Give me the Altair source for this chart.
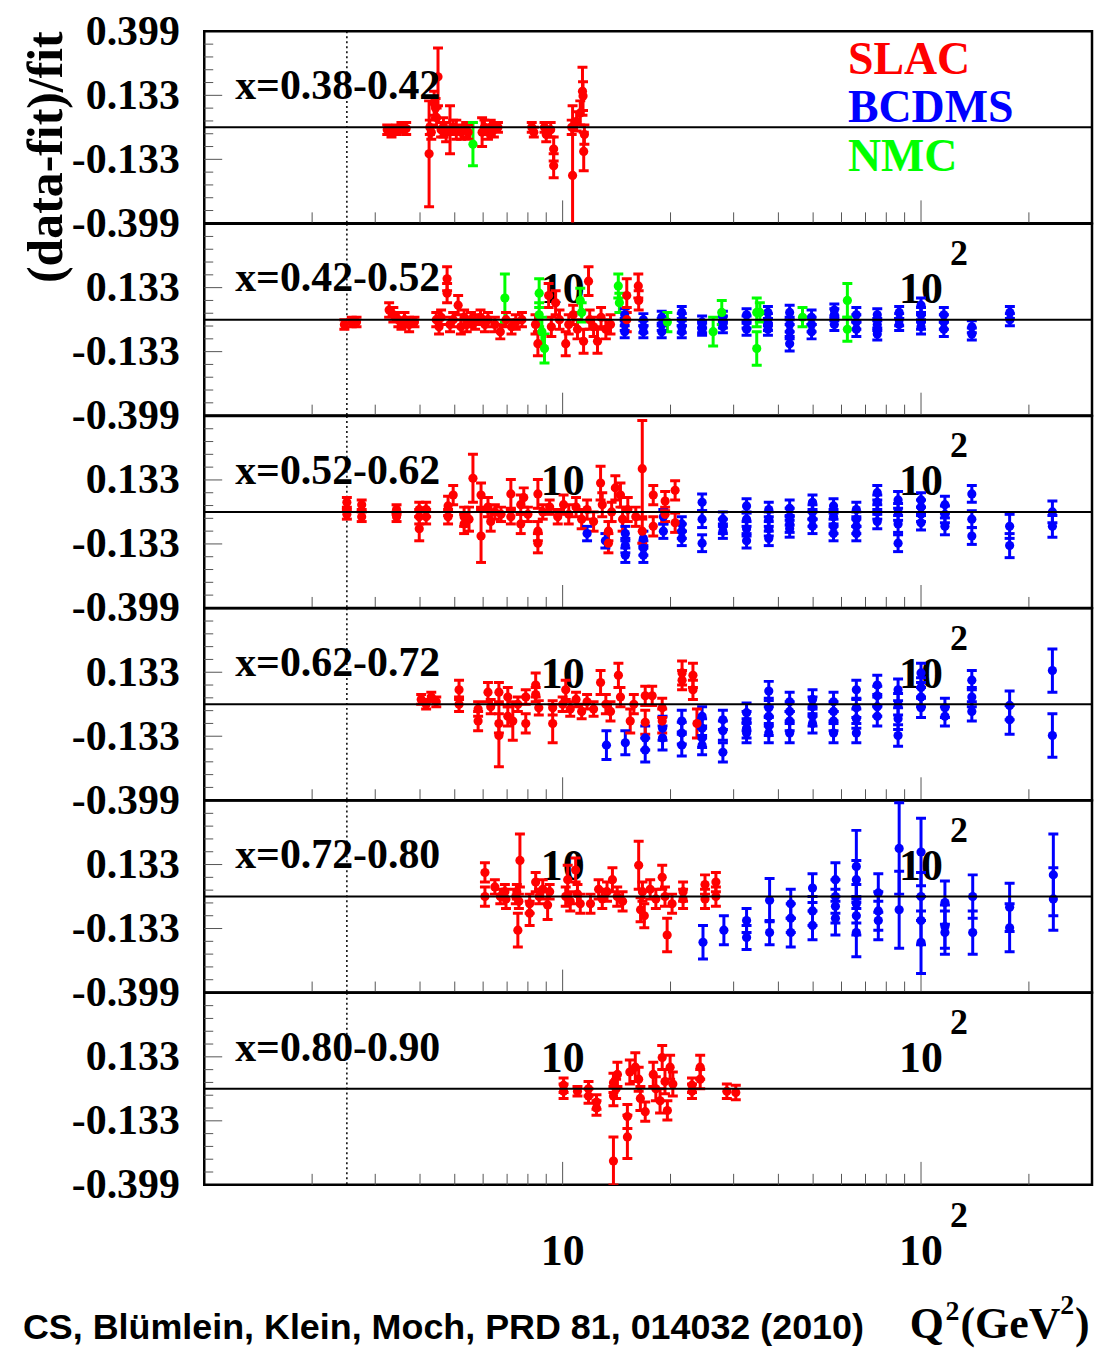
import altair as alt
import pandas as pd

# ---- panel layout / axes ---------------------------------------------------
PANEL_LABELS = ["x=0.38-0.42", "x=0.42-0.52", "x=0.52-0.62",
                "x=0.62-0.72", "x=0.72-0.80", "x=0.80-0.90"]
EXPERIMENTS = ["SLAC", "BCDMS", "NMC"]
EXP_COLORS = ["#ff0000", "#0000ff", "#00ff00"]

Q2_RANGE = [1, 300]
RESID_RANGE = [-0.399, 0.399]
Y_LABELS_TOP = [-0.399, -0.133, 0.133, 0.399]
Y_LABELS = [-0.399, -0.133, 0.133]
Y_TICKS_MAJOR = [-0.133, 0.133]
Y_TICKS_MINOR = [-0.3458, -0.2926, -0.2394, -0.1862, -0.0798, -0.0266,
                 0.0266, 0.0798, 0.1862, 0.2394, 0.2926, 0.3458]
X_TICKS_MAJOR = [10, 100]
X_TICKS_MINOR = [2, 3, 4, 5, 6, 7, 8, 9, 20, 30, 40, 50, 60, 70, 80, 90, 200]
X_LABELS = [10, 100]
X_LABEL_TEXT = ["10", "10"]
X_EXPONENT_AT = [100]
Q2_CUT = 2.5

CITATION = "CS, Blümlein, Klein, Moch, PRD 81, 014032 (2010)"

# ---- residuals (Q2 [GeV^2], (data-fit)/fit, error) -------------------------
SLAC_1 = [
    (3.24, -0.01, 0.02), (3.33, -0.02, 0.02), (3.44, -0.01, 0.02), (3.55, 0.0, 0.02),
    (3.66, -0.005, 0.025), (4.24, -0.11, 0.22), (4.26, 0.0, 0.03), (4.30, -0.02, 0.03),
    (4.38, 0.10, 0.05), (4.42, 0.08, 0.04), (4.45, 0.04, 0.04), (4.49, 0.21, 0.12),
    (4.58, -0.01, 0.03), (4.65, 0.0, 0.04), (4.73, -0.02, 0.04), (4.85, -0.01, 0.10),
    (4.95, 0.0, 0.03), (5.05, -0.01, 0.04), (5.21, -0.02, 0.03), (5.38, -0.01, 0.03),
    (5.45, -0.02, 0.03), (5.96, -0.02, 0.06), (6.05, 0.0, 0.03), (6.19, -0.02, 0.03),
    (6.30, 0.0, 0.03), (6.43, -0.01, 0.03), (6.60, 0.0, 0.02), (8.20, 0.0, 0.02),
    (8.31, -0.02, 0.02), (8.90, 0.0, 0.02), (9.00, -0.03, 0.03), (9.26, -0.01, 0.03),
    (9.44, -0.09, 0.05), (9.44, -0.16, 0.05), (10.66, -0.20, 0.29), (10.60, 0.0, 0.03),
    (10.94, 0.025, 0.04), (11.2, 0.06, 0.05), (11.36, 0.15, 0.10), (11.40, 0.13, 0.06),
    (11.50, -0.03, 0.04), (11.45, -0.10, 0.08),
]
NMC_1 = [(5.62, -0.07, 0.09)]

SLAC_2 = [
    (2.46, -0.02, 0.02), (2.58, -0.01, 0.02), (2.66, -0.01, 0.02),
    (3.28, 0.04, 0.03), (3.37, 0.02, 0.03), (3.48, 0.0, 0.03), (3.55, -0.02, 0.02),
    (3.62, 0.0, 0.03), (3.73, -0.02, 0.03), (3.86, -0.01, 0.02),
    (4.44, 0.0, 0.03), (4.52, -0.03, 0.03), (4.58, 0.01, 0.03), (4.76, 0.17, 0.05),
    (4.76, 0.11, 0.04), (4.85, -0.02, 0.03), (4.95, 0.0, 0.03), (5.11, 0.06, 0.04),
    (5.20, -0.03, 0.03), (5.31, 0.01, 0.03), (5.40, -0.02, 0.03), (5.55, 0.0, 0.03),
    (5.70, -0.01, 0.03), (5.90, 0.01, 0.03), (6.07, -0.02, 0.03), (6.19, 0.0, 0.03),
    (6.47, -0.02, 0.03), (6.70, -0.05, 0.03), (6.95, 0.0, 0.03), (7.20, -0.03, 0.03),
    (7.40, -0.01, 0.03), (7.70, 0.0, 0.03), (8.40, -0.02, 0.04), (8.53, -0.10, 0.05),
    (9.14, 0.10, 0.05), (9.30, -0.03, 0.04), (9.56, 0.07, 0.05), (9.80, 0.0, 0.04),
    (10.2, -0.10, 0.05), (10.4, -0.02, 0.04), (10.7, 0.02, 0.04), (11.0, -0.04, 0.04),
    (11.44, -0.09, 0.05), (11.81, 0.16, 0.06), (11.9, 0.0, 0.04), (12.2, -0.03, 0.04),
    (12.51, -0.09, 0.05), (12.8, 0.01, 0.04), (13.2, -0.04, 0.04), (13.6, -0.02, 0.04),
    (15.1, 0.10, 0.07), (15.1, 0.0, 0.05), (16.26, 0.14, 0.05), (16.3, 0.08, 0.04),
]
NMC_2 = [
    (6.9, 0.09, 0.10), (8.6, 0.11, 0.06), (8.6, 0.02, 0.05), (8.75, -0.05, 0.06),
    (8.9, -0.12, 0.06), (11.2, 0.08, 0.05), (11.3, 0.03, 0.04), (14.3, 0.14, 0.05),
    (14.4, 0.07, 0.04), (19.6, -0.01, 0.04), (26.3, -0.05, 0.06), (27.8, 0.03, 0.05),
    (34.8, 0.03, 0.06), (34.8, -0.12, 0.07), (35.5, 0.03, 0.04), (46.7, 0.01, 0.04),
    (62.3, 0.08, 0.07), (62.3, -0.04, 0.05),
]
# BCDMS: (Q2, residuals measured at that Q2, error)
BCDMS_2 = [
    (14.9, (0.02, -0.02, -0.05), 0.025), (16.8, (0.0, -0.03, -0.05), 0.025),
    (18.9, (0.01, -0.02, -0.05), 0.025), (21.5, (0.03, 0.0, -0.03, -0.05), 0.025),
    (24.5, (-0.01, -0.03, -0.04), 0.025), (28.0, (0.01, -0.01, -0.03), 0.025),
    (32.6, (0.02, -0.01, -0.04), 0.025), (37.4, (0.03, 0.0, -0.02, -0.04), 0.025),
    (43.0, (0.03, -0.02, -0.05, -0.10), 0.03), (49.5, (0.01, -0.02, -0.05), 0.03),
    (57.3, (0.04, 0.02, -0.02), 0.025), (66.0, (0.02, -0.01, -0.04), 0.03),
    (75.5, (0.02, -0.02, -0.06), 0.025), (86.9, (0.03, 0.0, -0.02), 0.025),
    (100.0, (0.06, 0.02, -0.01, -0.03), 0.03), (115.8, (0.02, -0.01, -0.04), 0.03),
    (138.6, (-0.03, -0.06), 0.025), (177.0, (0.03, 0.0), 0.025),
]

SLAC_3 = [
    (2.50, 0.04, 0.02), (2.50, -0.01, 0.02), (2.75, 0.03, 0.02), (2.75, -0.02, 0.02),
    (3.44, 0.01, 0.02), (3.44, -0.02, 0.02), (3.98, 0.01, 0.03), (3.98, -0.02, 0.03),
    (3.98, -0.07, 0.05), (4.16, 0.01, 0.03), (4.16, -0.02, 0.03), (4.79, 0.025, 0.04),
    (4.79, -0.02, 0.03), (4.95, 0.07, 0.04), (5.31, -0.02, 0.04), (5.31, -0.05, 0.04),
    (5.48, -0.03, 0.05), (5.62, 0.14, 0.10), (5.92, -0.10, 0.11), (5.92, 0.07, 0.05),
    (6.19, 0.02, 0.04), (6.30, -0.04, 0.04), (6.47, 0.0, 0.03), (6.73, -0.01, 0.03),
    (7.17, 0.075, 0.06), (7.17, -0.02, 0.03), (7.64, 0.03, 0.04), (7.64, -0.05, 0.04),
    (7.79, 0.06, 0.04), (8.00, -0.01, 0.03), (8.53, 0.075, 0.06), (8.53, -0.08, 0.04),
    (8.53, -0.13, 0.04), (8.80, 0.0, 0.03), (9.20, 0.02, 0.03), (9.69, -0.02, 0.03),
    (10.06, 0.03, 0.04), (10.4, -0.01, 0.04), (10.9, 0.02, 0.04), (11.3, -0.03, 0.04),
    (11.7, 0.01, 0.04), (12.2, -0.04, 0.04), (12.76, 0.12, 0.07), (12.9, 0.03, 0.05),
    (13.42, -0.08, 0.04), (13.42, -0.13, 0.04), (13.7, 0.0, 0.04), (14.03, 0.10, 0.05),
    (14.5, 0.07, 0.05), (14.7, -0.03, 0.05), (15.2, 0.01, 0.05), (16.0, -0.02, 0.04),
    (16.68, 0.18, 0.20), (16.68, -0.08, 0.05), (17.9, 0.07, 0.04), (17.9, -0.06, 0.04),
    (19.32, 0.045, 0.04), (19.32, -0.01, 0.03), (20.6, 0.09, 0.04), (20.6, -0.045, 0.04),
]
BCDMS_3 = [
    (11.7, (-0.09,), 0.03), (13.16, (-0.12,), 0.03), (14.96, (-0.09, -0.14, -0.18), 0.03),
    (16.8, (-0.11, -0.15, -0.18), 0.03), (19.1, (-0.02, -0.08), 0.03),
    (21.5, (-0.05, -0.08, -0.11), 0.03), (24.5, (0.04, -0.03, -0.13), 0.035),
    (28.0, (-0.03, -0.06, -0.08), 0.03), (32.6, (0.025, -0.03, -0.07, -0.12), 0.03),
    (37.6, (0.01, -0.03, -0.07, -0.11), 0.03), (43.0, (0.015, -0.02, -0.05, -0.07), 0.035),
    (49.8, (0.04, 0.0, -0.03, -0.06), 0.03), (57.0, (0.025, -0.02, -0.06, -0.09), 0.03),
    (66.0, (0.01, -0.03, -0.06, -0.09), 0.03), (75.5, (0.08, 0.04, 0.0, -0.04), 0.03),
    (86.3, (0.05, 0.0, -0.05, -0.13), 0.035), (100.0, (0.05, 0.02, -0.01, -0.045), 0.03),
    (116.6, (0.03, -0.01, -0.06), 0.035), (138.6, (0.075, -0.03, -0.10), 0.035),
    (176.7, (-0.06, -0.14), 0.05), (232.6, (0.0, -0.06), 0.045),
]

SLAC_4 = [
    (4.03, 0.02, 0.02), (4.16, 0.0, 0.02), (4.30, 0.03, 0.02), (4.44, 0.01, 0.02),
    (5.14, 0.06, 0.04), (5.14, 0.0, 0.03), (5.81, -0.02, 0.03), (5.81, -0.07, 0.04),
    (6.19, 0.05, 0.04), (6.30, -0.01, 0.03), (6.64, 0.05, 0.04), (6.64, -0.08, 0.04),
    (6.64, -0.13, 0.13), (7.03, 0.03, 0.04), (7.03, -0.05, 0.04), (7.26, -0.07, 0.08),
    (7.50, 0.0, 0.03), (7.89, 0.03, 0.03), (7.89, -0.08, 0.04), (8.41, 0.08, 0.05),
    (8.41, 0.04, 0.03), (8.58, -0.015, 0.03), (9.38, -0.015, 0.03), (9.38, -0.08, 0.08),
    (10.2, 0.06, 0.04), (10.0, 0.0, 0.03), (10.5, -0.02, 0.03), (10.9, 0.02, 0.03),
    (11.3, -0.03, 0.03), (11.7, 0.01, 0.03), (12.2, -0.02, 0.03), (12.76, 0.09, 0.05),
    (13.2, 0.0, 0.04), (13.6, -0.03, 0.04), (14.31, 0.12, 0.05), (14.5, 0.03, 0.04),
    (15.44, -0.07, 0.05), (15.8, 0.0, 0.04), (17.0, 0.035, 0.04), (17.0, -0.075, 0.05),
    (17.78, 0.035, 0.04), (18.96, -0.015, 0.04), (18.96, -0.07, 0.05),
    (21.54, 0.13, 0.05), (21.54, 0.10, 0.04), (23.1, 0.12, 0.05), (23.1, 0.06, 0.04),
    (23.7, -0.08, 0.06),
]
BCDMS_4 = [
    (13.25, (-0.17,), 0.06), (14.96, (-0.16,), 0.05), (17.0, (-0.14, -0.19), 0.05),
    (19.0, (-0.10, -0.14), 0.05), (21.5, (-0.07, -0.12, -0.17), 0.045),
    (24.5, (-0.05, -0.10, -0.14, -0.17), 0.04), (28.0, (-0.065, -0.11, -0.20), 0.04),
    (32.6, (-0.035, -0.07, -0.10, -0.12), 0.04), (37.6, (0.055, -0.015, -0.05, -0.09, -0.12), 0.04),
    (43.0, (0.01, -0.03, -0.07, -0.12), 0.04), (49.8, (0.02, -0.01, -0.05, -0.08), 0.04),
    (57.0, (0.01, -0.03, -0.07, -0.12), 0.04), (66.0, (0.06, -0.015, -0.06, -0.12), 0.04),
    (75.5, (0.08, 0.035, -0.01, -0.05), 0.04), (86.3, (0.06, 0.0, -0.06, -0.13), 0.045),
    (100.0, (0.13, 0.07, 0.03, -0.015), 0.04), (116.6, (-0.015, -0.05), 0.04),
    (138.6, (0.10, 0.03, -0.03), 0.04), (176.7, (-0.005, -0.065), 0.06),
    (232.6, (0.14, -0.13), 0.09),
]

SLAC_5 = [
    (6.07, 0.10, 0.04), (6.07, 0.0, 0.04), (6.47, 0.04, 0.03), (6.70, 0.0, 0.03),
    (6.90, 0.02, 0.03), (6.95, -0.01, 0.04), (7.40, 0.0, 0.03), (7.45, 0.02, 0.03),
    (7.50, -0.14, 0.07), (7.60, 0.15, 0.11), (7.55, -0.02, 0.03), (8.09, -0.03, 0.04),
    (8.09, -0.07, 0.05), (8.41, 0.06, 0.04), (8.60, 0.0, 0.03), (8.80, 0.03, 0.04),
    (9.08, -0.035, 0.06), (9.20, 0.02, 0.03), (10.33, 0.07, 0.06), (10.2, 0.0, 0.04),
    (10.5, -0.02, 0.04), (10.87, 0.11, 0.05), (11.0, 0.01, 0.04), (11.2, -0.03, 0.04),
    (11.96, -0.03, 0.04), (12.6, 0.03, 0.04), (12.9, -0.01, 0.04), (13.3, 0.02, 0.04),
    (13.77, 0.07, 0.05), (14.2, 0.0, 0.04), (14.7, -0.02, 0.04), (16.3, 0.13, 0.10),
    (16.5, -0.055, 0.05), (16.9, -0.08, 0.05), (16.7, 0.02, 0.04), (17.55, 0.03, 0.04),
    (18.2, -0.01, 0.04), (18.96, 0.08, 0.05), (19.3, 0.0, 0.04), (19.57, -0.16, 0.07),
    (20.2, -0.03, 0.04), (21.68, 0.02, 0.04), (21.68, -0.01, 0.04), (24.96, 0.05, 0.04),
    (24.96, -0.01, 0.04), (26.77, 0.06, 0.04), (26.77, 0.0, 0.04),
]
BCDMS_5 = [
    (24.64, (-0.19,), 0.07), (28.18, (-0.14,), 0.06), (32.6, (-0.10, -0.17), 0.05),
    (37.8, (-0.015,), 0.09), (37.8, (-0.15,), 0.05), (43.3, (-0.03, -0.09, -0.15), 0.06),
    (49.8, (0.035, -0.06, -0.12), 0.06), (57.7, (0.07, 0.0, -0.04, -0.09), 0.07),
    (66.0, (0.125,), 0.15), (66.0, (0.07, -0.03, -0.08), 0.08), (66.0, (-0.15,), 0.10),
    (76.0, (0.015, -0.06, -0.10), 0.08), (86.9, (0.20,), 0.19), (86.9, (-0.055,), 0.16),
    (100.0, (0.185,), 0.14), (100.0, (0.0, -0.10), 0.10), (100.0, (-0.19,), 0.13),
    (116.6, (-0.025, -0.125, -0.15), 0.09), (139.4, (0.0, -0.15), 0.09),
    (176.7, (-0.045, -0.13), 0.10), (234.0, (0.09,), 0.17), (234.0, (-0.01,), 0.13),
]

SLAC_6 = [
    (10.06, 0.015, 0.03), (10.06, -0.01, 0.03), (11.0, -0.01, 0.02), (11.81, 0.0, 0.03),
    (11.81, -0.03, 0.03), (12.43, -0.055, 0.03), (12.43, -0.08, 0.03), (13.86, -0.30, 0.10),
    (13.86, 0.025, 0.04), (13.86, -0.03, 0.04), (14.22, 0.06, 0.05), (14.1, 0.0, 0.04),
    (15.16, -0.115, 0.05), (15.16, -0.20, 0.09), (15.4, 0.07, 0.05), (15.95, 0.09, 0.06),
    (16.3, 0.04, 0.05), (16.48, -0.04, 0.05), (17.0, -0.095, 0.04), (17.9, 0.06, 0.05),
    (18.2, 0.0, 0.05), (18.7, -0.05, 0.05), (18.96, 0.13, 0.05), (19.3, 0.03, 0.05),
    (19.6, -0.09, 0.04), (19.95, 0.09, 0.05), (20.3, 0.02, 0.05), (22.96, 0.015, 0.03),
    (22.96, -0.01, 0.03), (24.2, 0.09, 0.05), (24.2, 0.04, 0.04), (28.72, -0.01, 0.03),
    (30.42, -0.015, 0.03),
]

SINGLE = {  # panel index -> [(experiment, points)]
    0: [("SLAC", SLAC_1), ("NMC", NMC_1)],
    1: [("SLAC", SLAC_2), ("NMC", NMC_2)],
    2: [("SLAC", SLAC_3)],
    3: [("SLAC", SLAC_4)],
    4: [("SLAC", SLAC_5)],
    5: [("SLAC", SLAC_6)],
}
STACKED = {1: BCDMS_2, 2: BCDMS_3, 3: BCDMS_4, 4: BCDMS_5}

rows = []
for p, stacks in STACKED.items():
    for q2, vals, err in stacks:
        for v in vals:
            rows.append(dict(panel=p, exp="BCDMS", order=0, q2=q2, v=v, lo=v - err, hi=v + err))
for p, sets in SINGLE.items():
    for exp, pts in sets:
        for q2, v, err in pts:
            rows.append(dict(panel=p, exp=exp, order=1 if exp == "SLAC" else 2,
                             q2=q2, v=v, lo=v - err, hi=v + err))
points = pd.DataFrame(rows).sort_values("order", kind="stable")

# ---- drawing ---------------------------------------------------------------
W, H = 891, 192.67
SERIF = "Liberation Serif"
CAP = "M -1 0 L 1 0"

xscale = alt.Scale(type="log", domain=Q2_RANGE, nice=False)
yscale = alt.Scale(domain=RESID_RANGE, nice=False, zero=False)
color = alt.Color("exp:N", scale=alt.Scale(domain=EXPERIMENTS, range=EXP_COLORS), legend=None)
LABEL_EXPR = "datum.value < 0 ? '-' + format(-datum.value, '.3f') : format(datum.value, '.3f')"


def text_layer(txt, x, y, size, **kw):
    return alt.Chart(pd.DataFrame({"t": [txt]})).mark_text(
        font=kw.pop("font", SERIF), fontWeight="bold", fontSize=size,
        baseline=kw.pop("baseline", "alphabetic"), align=kw.pop("align", "left"), **kw
    ).encode(text="t:N", x=alt.value(x), y=alt.value(y))


def panel(i):
    axis = alt.Axis(values=Y_LABELS_TOP if i == 0 else Y_LABELS, labelExpr=LABEL_EXPR,
                    ticks=False, domain=False, grid=False, title=None,
                    labelFont=SERIF, labelFontWeight="bold", labelFontSize=42,
                    labelColor="black", labelPadding=25, labelOverlap=False,
                    labelFlush=False, labelBound=False, labelBaseline="middle")

    def X(f):
        return alt.X(f, type="quantitative", scale=xscale, axis=None)

    def Y(f):
        return alt.Y(f, type="quantitative", scale=yscale, axis=axis)

    d = alt.Chart(points[points.panel == i])
    tick = dict(color="#555555", strokeWidth=1)
    cap = dict(shape=CAP, size=100, filled=False, strokeWidth=3, opacity=1, clip=True)
    layers = [
        alt.Chart(pd.DataFrame({"y": Y_TICKS_MINOR})).mark_rule(**tick).encode(
            y=Y("y"), x=alt.value(0), x2=alt.value(9)),
        alt.Chart(pd.DataFrame({"y": Y_TICKS_MAJOR})).mark_rule(**tick).encode(
            y=Y("y"), x=alt.value(0), x2=alt.value(18)),
        alt.Chart(pd.DataFrame({"q": X_TICKS_MINOR})).mark_rule(**tick).encode(
            x=X("q"), y=alt.value(H), y2=alt.value(H - 11)),
        alt.Chart(pd.DataFrame({"q": X_TICKS_MAJOR})).mark_rule(**tick).encode(
            x=X("q"), y=alt.value(H), y2=alt.value(H - 23)),
        alt.Chart(pd.DataFrame({"q": [Q2_CUT]})).mark_rule(
            color="black", strokeWidth=1.5, strokeDash=[2, 3]).encode(x=X("q")),
        d.mark_rule(strokeWidth=3, clip=True).encode(
            x=X("q2"), y=Y("lo"), y2="hi", color=color),
        d.mark_point(**cap).encode(x=X("q2"), y=Y("hi"), color=color),
        d.mark_point(**cap).encode(x=X("q2"), y=Y("lo"), color=color),
        d.mark_circle(size=85, opacity=1, clip=True).encode(
            x=X("q2"), y=Y("v"), color=color),
        alt.Chart(pd.DataFrame({"y": [0.0]})).mark_rule(
            color="black", strokeWidth=2).encode(y=Y("y")),
        text_layer(PANEL_LABELS[i], 31, 68, 42),
        alt.Chart(pd.DataFrame({"q": X_LABELS, "t": X_LABEL_TEXT})).mark_text(
            font=SERIF, fontWeight="bold", fontSize=44, align="center",
            baseline="alphabetic").encode(x=X("q"), y=alt.value(H + 80), text="t:N"),
        alt.Chart(pd.DataFrame({"q": X_EXPONENT_AT, "t": ["2"]})).mark_text(
            font=SERIF, fontWeight="bold", fontSize=36, align="center", dx=38,
            baseline="alphabetic").encode(x=X("q"), y=alt.value(H + 42), text="t:N"),
    ]
    if i == 0:
        layers += [
            text_layer("SLAC", 646, 43, 46, color=EXP_COLORS[0]),
            text_layer("BCDMS", 646, 91, 46, color=EXP_COLORS[1]),
            text_layer("NMC", 646, 140, 46, color=EXP_COLORS[2]),
            text_layer("(data-fit)/fit", -158, 0, 50, angle=270, align="right",
                       baseline="middle"),
        ]
    if i == 5:
        layers += [
            text_layer("Q", 708, 346, 44),
            text_layer("2", 744, 328, 28),
            text_layer("(GeV", 759, 346, 44),
            text_layer("2", 859, 322, 28),
            text_layer(")", 874, 346, 44),
            text_layer(CITATION, -182, 347, 36, font="Liberation Sans"),
        ]
    return alt.layer(*layers).properties(width=W, height=H)


chart = alt.vconcat(*[panel(i) for i in range(6)], spacing=0, bounds="flush").configure_view(
    stroke="black", strokeWidth=2.5
).properties(padding={"left": 20, "top": 6, "right": 0, "bottom": 0})

chart.save("out.html", embed_options={"renderer": "svg", "actions": False})
